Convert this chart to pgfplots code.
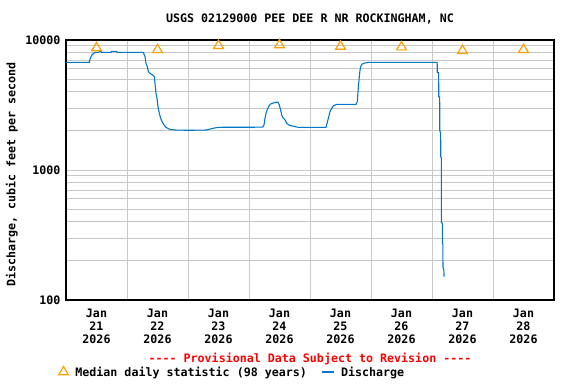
\documentclass[border=0pt]{standalone}
\usepackage{fontspec}
\setmainfont{DejaVu Sans Mono}[Ligatures=TeXOff]
\usepackage{pgfplots}
\pgfplotsset{compat=1.18}
\definecolor{usgsblue}{RGB}{0,120,200}
\definecolor{usgsorange}{RGB}{255,160,0}
\definecolor{gridgray}{RGB}{200,200,200}
\newcommand\cf{\fontsize{11.7}{13}\selectfont\bfseries}
\newcommand\cft{\fontsize{11.7}{13.4}\selectfont\bfseries}
\begin{document}
\begin{tikzpicture}
\useasboundingbox (0bp,0bp) rectangle (576bp,384bp);
\begin{axis}[
  at={(66bp,84bp)}, anchor=south west,
  scale only axis, width=488bp, height=260bp,
  xmin=0, xmax=8, ymode=log, ymin=100, ymax=10000,
  xtick={0.5,1.5,2.5,3.5,4.5,5.5,6.5,7.5},
  xticklabels={{Jan\\21\\2026},{Jan\\22\\2026},{Jan\\23\\2026},{Jan\\24\\2026},{Jan\\25\\2026},{Jan\\26\\2026},{Jan\\27\\2026},{Jan\\28\\2026}},
  xticklabel style={align=center, font=\cft, yshift=-5bp},
  minor xtick={1,2,3,4,5,6,7},
  xminorgrids=true, xmajorgrids=false,
  x tick style={draw=none},
  ytick={100,1000,10000},
  yticklabels={100,1000,10000},
  yticklabel style={font=\cf, xshift=-2bp},
  ymajorgrids=true, yminorgrids=true,
  ytick pos=left,
  y tick style={draw=none},
  grid style={draw=gridgray, line width=0.9bp},
  minor grid style={draw=gridgray, line width=0.9bp},
  axis line style={line width=1.4bp, black},
  ylabel={Discharge, cubic feet per second},
  ylabel style={at={(rel axis cs:-0.111,0.483)}, anchor=center, font=\cf},
  clip=false,
  legend style={at={(-0.0154,-0.277)}, anchor=west, draw=none, fill=none,
    font=\cf, legend columns=2, inner sep=0pt,
    /tikz/every even column/.append style={column sep=12bp},
    /tikz/every odd column/.append style={column sep=5bp}},
  legend cell align=left,
]
\addplot[only marks, mark=triangle, mark size=5.6bp, mark options={draw=usgsorange, line width=1.2bp, fill=none}]
coordinates {(0.5,8680) (1.5,8400) (2.5,9050) (3.5,9150) (4.5,8930) (5.5,8820) (6.5,8280) (7.5,8430)};
\addlegendentry{Median daily statistic (98 years)}
\addplot[usgsblue, line width=1.1bp, mark=none,
  legend image code/.code={\draw[usgsblue, line width=1.1bp] (0bp,0bp) -- (12bp,0bp);}]
coordinates {
(0,6730) (0.382,6730) (0.393,7100) (0.410,7450) (0.426,7670) (0.448,7850) (0.475,8000) (0.503,8040)
(0.54,8040) (0.545,8180) (0.58,8180) (0.585,8040) (0.74,8040) (0.745,8180) (0.83,8180) (0.835,8040)
(1.268,8040) (1.295,7450) (1.311,6620) (1.333,6240) (1.350,5710) (1.377,5540) (1.421,5380) (1.448,5220)
(1.459,4640) (1.475,3890) (1.492,3560) (1.508,3070) (1.530,2730) (1.552,2500) (1.574,2360) (1.607,2220)
(1.639,2130) (1.694,2060) (1.787,2030) (2.005,2020) (2.306,2030) (2.388,2080) (2.470,2120) (2.525,2130)
(3.224,2135) (3.246,2220) (3.262,2500) (3.279,2730) (3.301,2930) (3.328,3110) (3.355,3220) (3.399,3280)
(3.443,3320) (3.475,3320) (3.497,3160) (3.519,2890) (3.536,2650) (3.563,2500) (3.590,2430) (3.618,2290)
(3.661,2210) (3.727,2170) (3.809,2130) (4.262,2130) (4.273,2220) (4.301,2500) (4.328,2810) (4.355,2980)
(4.383,3110) (4.410,3160) (4.448,3200) (4.754,3200) (4.776,3360) (4.787,4010) (4.798,4640) (4.809,5220)
(4.820,5870) (4.836,6310) (4.858,6540) (4.902,6660) (4.956,6730) (6.085,6730) (6.087,5610) (6.109,5600)
(6.111,3660) (6.126,3650) (6.128,1970) (6.142,1960) (6.144,1260) (6.153,1250) (6.155,393) (6.169,390)
(6.171,273) (6.178,270) (6.180,180) (6.195,170) (6.197,151)
};
\addlegendentry{Discharge}
\node[font=\cf, text=red] at (rel axis cs:0.5,-0.227) {---- Provisional Data Subject to Revision ----};
\node[font=\cf] at (rel axis cs:0.5,1.081) {USGS 02129000 PEE DEE R NR ROCKINGHAM, NC};
\end{axis}
\end{tikzpicture}
\end{document}
